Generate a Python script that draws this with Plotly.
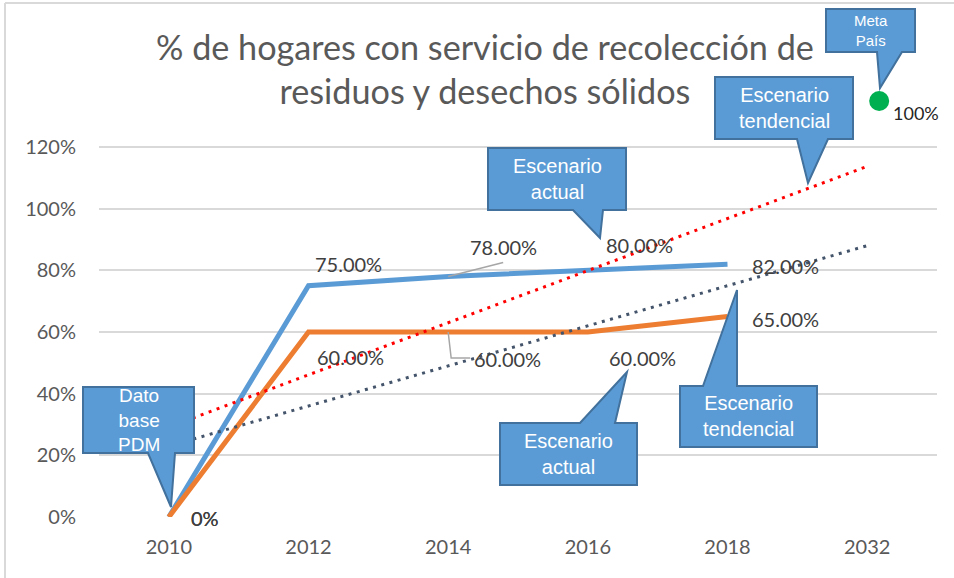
import plotly.graph_objects as go

# ---------------- data ----------------
categories = ["2010", "2012", "2014", "2016", "2018", "2032"]
series_years = ["2010", "2012", "2014", "2016", "2018"]
escenario_actual = [0.00, 0.75, 0.78, 0.80, 0.82]        # blue line
escenario_tendencial = [0.00, 0.60, 0.60, 0.60, 0.65]    # orange line
trend_years = ["2010", "2032"]
tendencia_actual = [0.292, 1.137]                        # red dotted trend
tendencia_tendencial = [0.230, 0.880]                    # dark dotted trend
meta_year = ["2032"]
meta_pais = [1.00]
y_ticks = [0.0, 0.2, 0.4, 0.6, 0.8, 1.0, 1.2]
y_tick_labels = ["0%", "20%", "40%", "60%", "80%", "100%", "120%"]
title_lines = ["% de hogares con servicio de recolección de", "residuos y desechos sólidos"]

# ---------------- geometry / style ----------------
W, H = 954, 578
L, R, B = 99, 937, 517          # plot area left / right / bottom (px)
TOP120 = 147                    # pixel row of the 120% gridline
PX_PER_UNIT = (B - TOP120) / 1.2
YTOP = B / PX_PER_UNIT          # axis value at the very top of the figure
META_PX = 101                   # pixel row where the Meta País point sits
FONT = "Lato, 'Open Sans', sans-serif"
NARROW = "'Liberation Sans Narrow', 'Arial Narrow', 'Liberation Sans', sans-serif"
BLUE, ORANGE = "#5B9BD5", "#ED7D31"
CALLOUT_FILL, CALLOUT_LINE = "#5B9BD5", "#41719C"

def px_x(p):
    return (p - L) / (R - L)

def px_y(p):
    return (B - p) / B

def cat_px(cat):
    i = categories.index(cat)
    return L + (i + 0.5) * (R - L) / len(categories)

def val_px(v):
    return B - v * PX_PER_UNIT

def fmt(v):
    return "0%" if v == 0 else f"{v * 100:.2f}%"

fig = go.Figure()

fig.add_trace(go.Scatter(x=series_years, y=escenario_actual, mode="lines",
                         line=dict(color=BLUE, width=5), showlegend=False, hoverinfo="skip"))
fig.add_trace(go.Scatter(x=series_years, y=escenario_tendencial, mode="lines",
                         line=dict(color=ORANGE, width=5), showlegend=False, hoverinfo="skip"))
fig.add_trace(go.Scatter(x=trend_years, y=tendencia_actual, mode="lines",
                         line=dict(color="#FF0000", width=3, dash="3px,5.5px"),
                         showlegend=False, hoverinfo="skip"))
fig.add_trace(go.Scatter(x=trend_years, y=tendencia_tendencial, mode="lines",
                         line=dict(color="#44546A", width=3, dash="3px,5.5px"),
                         showlegend=False, hoverinfo="skip"))
fig.add_trace(go.Scatter(x=meta_year, y=meta_pais, mode="markers", xaxis="x2", yaxis="y2",
                         marker=dict(color="#00B050", size=20), cliponaxis=False,
                         showlegend=False, hoverinfo="skip"))

annotations = []
# data labels (offsets in pixels relative to the point)
blue_offsets = [(36, -1), (40, 22), (55, 30), (52, 25), (58, -2)]
orange_offsets = [(36, -1), (42, -25), (59, -27), (55, -26), (58, -2)]
for yrs, vals, offs in [(series_years, escenario_actual, blue_offsets),
                        (series_years, escenario_tendencial, orange_offsets)]:
    for x, v, (dx, dy) in zip(yrs, vals, offs):
        annotations.append(dict(x=categories.index(x), y=v, xref="x", yref="y", text=fmt(v),
                                showarrow=False, xshift=dx, yshift=dy,
                                font=dict(family=FONT, size=20, color="#404040")))
annotations.append(dict(x=categories.index(meta_year[0]), y=meta_pais[0], xref="x2", yref="y2",
                        text=f"{meta_pais[0] * 100:.0f}%", showarrow=False, xshift=37, yshift=-12,
                        font=dict(family=FONT, size=18, color="#262626")))

# title
annotations.append(dict(xref="paper", yref="paper", x=px_x(485), y=px_y(69), yanchor="middle",
                        text="<br>".join(title_lines), showarrow=False,
                        font=dict(family=FONT, size=34.2, color="#595959")))

shapes = []
# leader lines
bx, by = cat_px("2014"), val_px(escenario_actual[2])
shapes.append(dict(type="path", xref="paper", yref="paper",
                   path=f"M {px_x(bx)},{px_y(by)} L {px_x(bx + 55)},{px_y(by - 14)}",
                   line=dict(color="#A6A6A6", width=1.5)))
ox, oy = cat_px("2014"), val_px(escenario_tendencial[2])
shapes.append(dict(type="path", xref="paper", yref="paper",
                   path=f"M {px_x(ox)},{px_y(oy)} L {px_x(ox + 3)},{px_y(oy + 26)} L {px_x(ox + 22)},{px_y(oy + 26)}",
                   line=dict(color="#A6A6A6", width=1.5)))

# chart border (top and left visible)
shapes.append(dict(type="line", xref="paper", yref="paper", x0=px_x(5), x1=px_x(960),
                   y0=px_y(3), y1=px_y(3), line=dict(color="#D9D9D9", width=2)))
shapes.append(dict(type="line", xref="paper", yref="paper", x0=px_x(5), x1=px_x(5),
                   y0=px_y(3), y1=px_y(590), line=dict(color="#D9D9D9", width=2)))

def callout(box, base, tip, side, text, size):
    x0, x1, y0, y1 = box
    b1, b2 = base
    if side == "bottom":
        pts = [(x0, y0), (x1, y0), (x1, y1), (b2, y1), tip, (b1, y1), (x0, y1)]
    else:
        pts = [(x0, y0), (b1, y0), tip, (b2, y0), (x1, y0), (x1, y1), (x0, y1)]
    path = "M " + " L ".join(f"{px_x(a)},{px_y(b)}" for a, b in pts) + " Z"
    shapes.append(dict(type="path", xref="paper", yref="paper", path=path,
                       fillcolor=CALLOUT_FILL, line=dict(color=CALLOUT_LINE, width=2)))
    annotations.append(dict(xref="paper", yref="paper", x=px_x((x0 + x1) / 2), y=px_y((y0 + y1) / 2),
                            text=text, showarrow=False, xanchor="center", yanchor="middle",
                            font=dict(family=NARROW, size=size, color="white")))

callout((826, 915, 9, 52), (877, 902), (880, 88), "bottom", "Meta<br>País", 15)
callout((715, 853, 77, 139), (797, 828), (808, 183), "bottom", "Escenario<br>tendencial", 20)
callout((488, 626, 148, 210), (573, 603), (600, 238), "bottom", "Escenario<br>actual", 20)
callout((83, 194, 387, 453), (148, 175), (171, 507), "bottom", "Dato<br>base<br>PDM", 19)
callout((500, 637, 423, 485), (580, 615), (627, 372), "top", "Escenario<br>actual", 20)
callout((680, 817, 386, 447), (703, 737), (737, 290), "top", "Escenario<br>tendencial", 20)

meta_shift = 12 / ((R - L) / len(categories))
fig.update_layout(
    width=W, height=H,
    margin=dict(l=L, r=W - R, t=0, b=H - B, pad=0),
    paper_bgcolor="white", plot_bgcolor="white",
    showlegend=False,
    xaxis=dict(type="category", categoryorder="array", categoryarray=categories,
               range=[-0.5, len(categories) - 0.5], showgrid=False, showline=False,
               zeroline=False, ticks="", ticklabelstandoff=16,
               tickfont=dict(family=FONT, size=20, color="#595959")),
    yaxis=dict(range=[0, YTOP], tickvals=y_ticks, ticktext=y_tick_labels,
               showgrid=True, gridcolor="#D9D9D9", gridwidth=1.5, zeroline=False,
               showline=False, ticks="", ticklabelstandoff=22,
               tickfont=dict(family=FONT, size=20, color="#595959")),
    xaxis2=dict(type="category", categoryorder="array", categoryarray=categories,
                overlaying="x", anchor="y2",
                range=[-0.5 - meta_shift, len(categories) - 0.5 - meta_shift],
                visible=False),
    yaxis2=dict(overlaying="y", anchor="x2",
                range=[0, meta_pais[0] * B / (B - META_PX)], visible=False),
    shapes=shapes,
    annotations=annotations,
)

fig.write_html("out.html", config={"displayModeBar": False},
               post_script="document.body.style.margin='0';")
